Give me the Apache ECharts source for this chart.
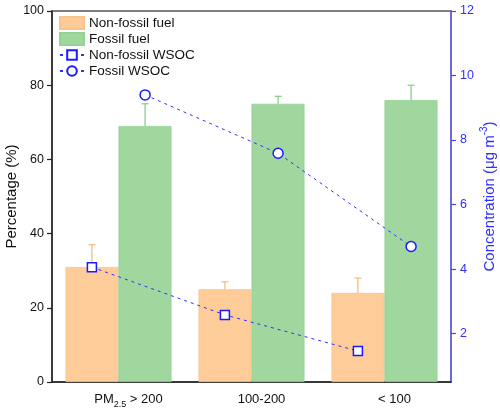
<!DOCTYPE html>
<html>
<head>
<meta charset="utf-8">
<script src="https://cdn.jsdelivr.net/npm/echarts@6/dist/echarts.min.js"></script>
<style>html,body{margin:0;padding:0;background:#fff;}#c{width:500px;height:413px;}</style>
</head>
<body>
<div id="c"></div>
<script>
var categories = ['PM2.5 > 200', '100-200', '< 100'];
var nonFossilPct = [31, 25, 24];
var nonFossilErrTop = [37, 27, 28];
var fossilPct = [69, 75, 76];
var fossilErrTop = [75, 77, 80];
var nonFossilWSOC = [4.06, 2.58, 1.46];
var fossilWSOC = [9.40, 7.59, 4.70];
var leftTicks = [0, 20, 40, 60, 80, 100];
var rightTicks = [2, 4, 6, 8, 10, 12];

var FONT = 'Liberation Sans, Arial, sans-serif';
var ORANGE = '#FECC98', GREEN = '#9FD79F';
var ORANGE_ERR = '#F8BC80', GREEN_ERR = '#8DCE8D';
var BLUE = '#2f2fff';

function errData(top, vals, off) {
  return vals.map(function (v, i) { return [i + off, v, top[i]]; });
}
function lineData(vals, off) {
  return vals.map(function (v, i) { return [i + off, v]; });
}
function errRender(color) {
  return function (params, api) {
    var x = api.value(0), lo = api.value(1), hi = api.value(2);
    var p0 = api.coord([x, lo]), p1 = api.coord([x, hi]);
    var style = { stroke: color, lineWidth: 1.3 };
    return {
      type: 'group',
      children: [
        { type: 'line', shape: { x1: p0[0], y1: p0[1], x2: p1[0], y2: p1[1] }, style: style },
        { type: 'line', shape: { x1: p1[0] - 3.5, y1: p1[1], x2: p1[0] + 3.5, y2: p1[1] }, style: style }
      ]
    };
  };
}

var chart = echarts.init(document.getElementById('c'), null, { renderer: 'canvas' });
chart.setOption({
  animation: false,
  textStyle: { fontFamily: FONT },
  grid: { left: 52, top: 11, width: 399, height: 371, show: true, borderColor: '#555', borderWidth: 1.5, backgroundColor: 'transparent', containLabel: false, outerBoundsMode: 'none' },
  legend: {
    orient: 'vertical', left: 54, top: 10, itemWidth: 24, itemHeight: 12, itemGap: 0,
    textStyle: { fontSize: 13.5, lineHeight: 16, color: '#111', fontFamily: FONT },
    data: [
      { name: 'Non-fossil fuel', icon: 'rect' },
      { name: 'Fossil fuel', icon: 'rect' },
      { name: 'Non-fossil WSOC' },
      { name: 'Fossil WSOC' }
    ]
  },
  xAxis: [
    {
      type: 'category', data: categories, gridIndex: 0,
      axisLine: { onZero: false, lineStyle: { color: '#222', width: 1.5 } },
      axisTick: { show: false },
      axisLabel: {
        interval: 0, margin: 8, color: '#111', fontSize: 13, fontFamily: FONT, padding: [0, 0, 0, 20],
        formatter: function (v) {
          if (v.indexOf('PM2.5') === 0) return '{a|PM}{sub|2.5}{a|' + v.slice(5) + '}';
          return '{a|' + v + '}';
        },
        rich: {
          a: { fontSize: 13, fontFamily: FONT, color: '#111', lineHeight: 16, verticalAlign: 'bottom' },
          sub: { fontSize: 9, fontFamily: FONT, color: '#111', lineHeight: 16, verticalAlign: 'bottom', padding: [0, 0, -3, 0] }
        }
      }
    },
    { type: 'value', min: -0.5, max: 2.5, show: false, gridIndex: 0, axisLine: { onZero: false } }
  ],
  yAxis: [
    {
      type: 'value', min: 0, max: 100, interval: 20, position: 'left',
      name: 'Percentage (%)', nameLocation: 'middle', nameGap: 33, nameRotate: 90, nameMoveOverlap: false,
      nameTextStyle: { fontSize: 15, color: '#111', fontFamily: FONT },
      axisLine: { show: true, onZero: false, lineStyle: { color: '#222', width: 1.5 } },
      axisTick: { show: true, length: 5, lineStyle: { color: '#222', width: 1.2 } },
      axisLabel: { margin: 8, color: '#111', fontSize: 12.5, fontFamily: FONT },
      splitLine: { show: false }
    },
    {
      type: 'value', min: 0.5, max: 12, position: 'right',
      name: '{a|Concentration (μg m}{sup|-3}{a|)}', nameLocation: 'middle', nameGap: 28, nameRotate: 90, nameMoveOverlap: false,
      nameTextStyle: {
        fontSize: 15, color: BLUE, fontFamily: FONT,
        rich: {
          a: { fontSize: 15, color: BLUE, fontFamily: FONT, lineHeight: 18, verticalAlign: 'bottom' },
          sup: { fontSize: 10, color: BLUE, fontFamily: FONT, lineHeight: 18, verticalAlign: 'top' }
        }
      },
      axisLine: { show: true, onZero: false, lineStyle: { color: '#6464ff', width: 1.5 } },
      axisTick: { show: true, length: 5, customValues: rightTicks, lineStyle: { color: '#4646ff', width: 1.2 } },
      axisLabel: { margin: 9, color: BLUE, fontSize: 12.5, fontFamily: FONT, customValues: rightTicks },
      splitLine: { show: false }
    }
  ],
  series: [
    {
      name: 'Non-fossil fuel', type: 'bar', xAxisIndex: 0, yAxisIndex: 0, data: nonFossilPct,
      barWidth: 53, barGap: '0%', itemStyle: { color: ORANGE, borderColor: '#F9C48C', borderWidth: 0.8 }
    },
    {
      name: 'Fossil fuel', type: 'bar', xAxisIndex: 0, yAxisIndex: 0, data: fossilPct,
      barWidth: 53, barGap: '0%', itemStyle: { color: GREEN, borderColor: '#94D294', borderWidth: 0.8 }
    },
    {
      type: 'custom', xAxisIndex: 1, yAxisIndex: 0, data: errData(nonFossilErrTop, nonFossilPct, -0.2),
      renderItem: errRender(ORANGE_ERR), z: 1
    },
    {
      type: 'custom', xAxisIndex: 1, yAxisIndex: 0, data: errData(fossilErrTop, fossilPct, 0.2),
      renderItem: errRender(GREEN_ERR), z: 1
    },
    {
      name: 'Non-fossil WSOC', type: 'line', xAxisIndex: 1, yAxisIndex: 1, data: lineData(nonFossilWSOC, -0.2),
      symbol: 'rect', symbolSize: 9, z: 5,
      lineStyle: { color: BLUE, width: 1, type: [3, 4] },
      itemStyle: { color: '#fff', borderColor: '#1a1aff', borderWidth: 1.5 }
    },
    {
      name: 'Fossil WSOC', type: 'line', xAxisIndex: 1, yAxisIndex: 1, data: lineData(fossilWSOC, 0.2),
      symbol: 'circle', symbolSize: 10, z: 5,
      lineStyle: { color: BLUE, width: 1, type: [3, 4] },
      itemStyle: { color: '#fff', borderColor: '#1a1aff', borderWidth: 1.5 }
    }
  ]
});
</script>
</body>
</html>
